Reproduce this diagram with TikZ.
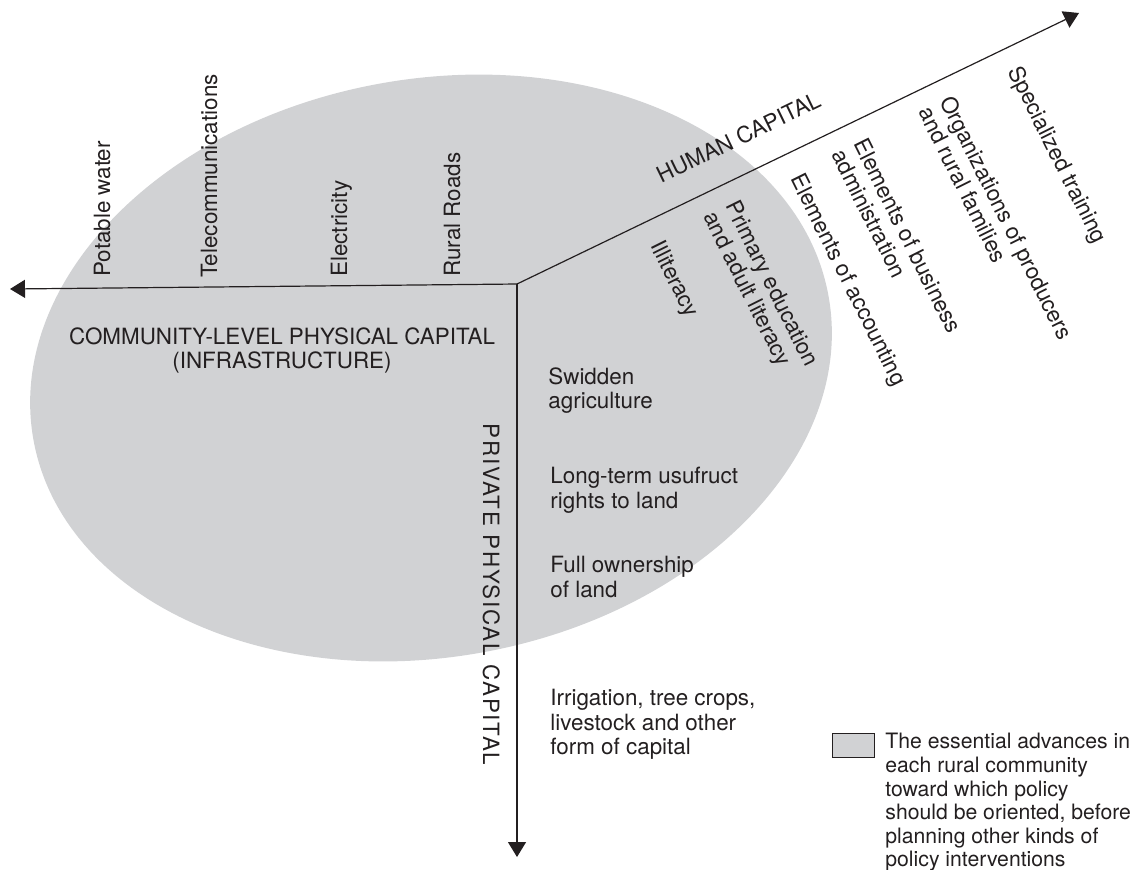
\documentclass[tikz,border=0pt]{standalone}
\usepackage{fontspec}
\setmainfont{TeX Gyre Heros}
\usetikzlibrary{arrows.meta}
\definecolor{advgray}{RGB}{209,210,212}
\definecolor{inkgray}{RGB}{35,31,32}

\begin{document}
\begin{tikzpicture}[x=0.5pt,y=-0.5pt,
axis/.style={-{Triangle[length=7.5pt,width=9pt]}, line width=0.6pt, draw=inkgray},
itemtext/.style={inner sep=0pt, align=left, text=inkgray, font=\fontsize{11.2}{12.2}\selectfont},
titletext/.style={inner sep=0pt, align=center, text=inkgray, font=\fontsize{11.2}{12.4}\selectfont},
humantext/.style={itemtext, rotate=-63.5, anchor=north west},
infratext/.style={itemtext, rotate=90, anchor=base west},
privatetext/.style={itemtext, anchor=north west},
legendbox/.style={rectangle, draw=inkgray, fill=advgray, line width=0.5pt, minimum width=21pt, minimum height=12pt, inner sep=0pt}
]
\useasboundingbox (0,0) rectangle (1133,869);

%Shaded area
\fill[advgray, rotate around={10.3:(431,368)}] (431,368) ellipse [x radius=202pt, y radius=144.5pt];

%Axes
\coordinate (O) at (517,284);
\coordinate (infraEnd) at (10,289);
\coordinate (humanEnd) at (1079,13);
\coordinate (privateEnd) at (517,857);

\draw[axis] (O) -- (infraEnd);
\draw[axis] (O) -- (humanEnd);
\draw[axis] (O) -- (privateEnd);

%Community-level physical capital
\node[infratext] at (110,277) (water)       {Potable water};
\node[infratext] at (217,278) (telecom)     {Telecommunications};
\node[infratext] at (347,277) (electricity) {Electricity};
\node[infratext] at (460,277) (roads)       {Rural Roads};
\node[titletext, anchor=north] at (282,327) (infraLabel) {COMMUNITY-LEVEL PHYSICAL CAPITAL\\(INFRASTRUCTURE)};

%Human capital
\node[titletext, rotate=25.8, anchor=base west] at (661,184) (humanLabel) {HUMAN CAPITAL};
\node[humantext] at (665,238)  (illiteracy)    {Illiteracy};
\node[humantext] at (740,198)  (primary)       {Primary education\\and adult literacy};
\node[humantext] at (805,171)  (accounting)    {Elements of accounting};
\node[humantext] at (868,136)  (business)      {Elements of business\\administration};
\node[humantext] at (955,93)   (organizations) {Organizations of producers\\and rural families};
\node[humantext] at (1023,63)  (training)      {Specialized training};

%Private physical capital
\node[titletext, rotate=-90, anchor=base west, font=\fontsize{11.2}{12.4}\selectfont\addfontfeatures{LetterSpace=8}] at (483,423) (privateLabel) {PRIVATE PHYSICAL CAPITAL};
\node[privatetext] at (548,367) (swidden)    {Swidden\\agriculture};
\node[privatetext] at (550,467) (usufruct)   {Long-term usufruct\\rights to land};
\node[privatetext] at (550,556) (ownership)  {Full ownership\\of land};
\node[privatetext] at (550,689) (irrigation) {Irrigation, tree crops,\\livestock and other\\form of capital};

%Legend
\node[legendbox] at (853,745) (legendBox) {};
\node[itemtext, anchor=north west, font=\fontsize{10.6}{11.8}\selectfont] at (885,733) (legendText)
  {The essential advances in\\each rural community\\toward which policy\\should be oriented, before\\planning other kinds of\\policy interventions};
\end{tikzpicture}
\end{document}
